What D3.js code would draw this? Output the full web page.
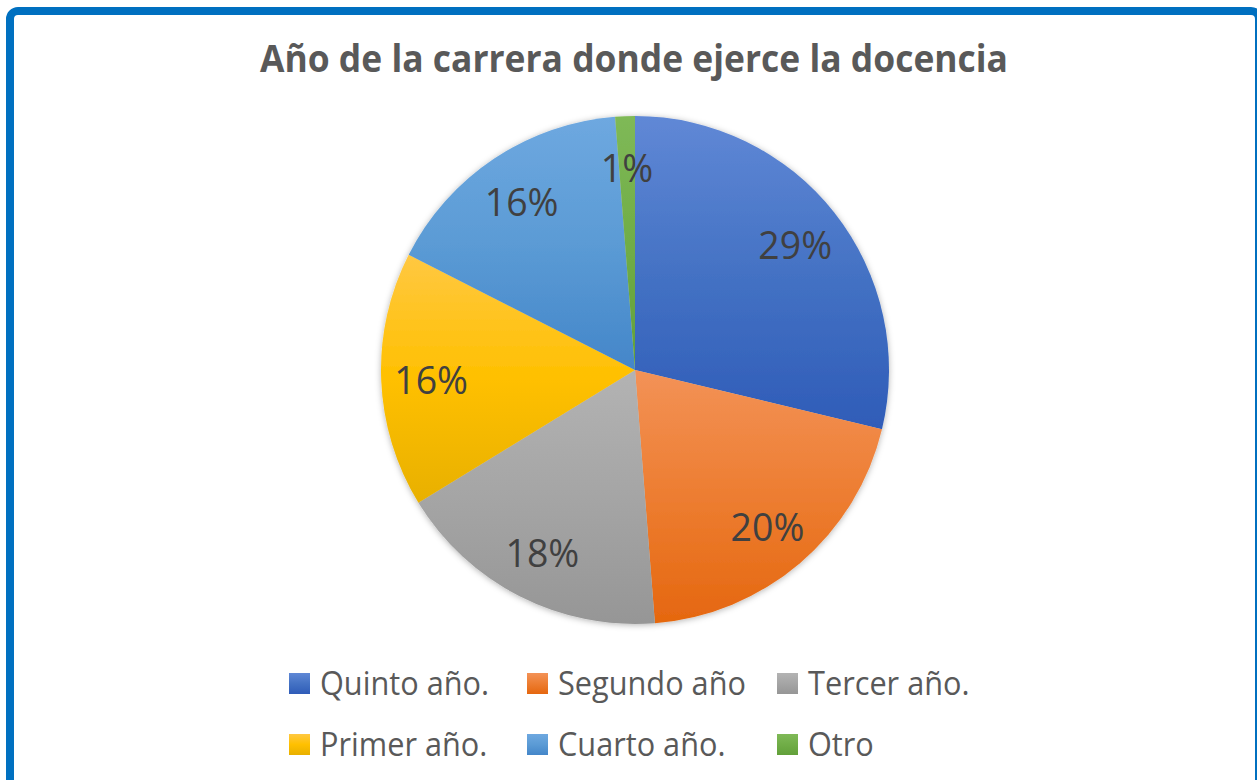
<!DOCTYPE html>
<html>
<head>
<meta charset="utf-8">
<script src="https://cdn.jsdelivr.net/npm/d3@7"></script>
<style>
  body { margin: 0; background: #fff; }
  svg { display: block; }
</style>
</head>
<body>
<svg id="chart" width="1257" height="780"></svg>
<script>
// data (counts out of 80)
const categories = ["Quinto año.", "Segundo año", "Tercer año.", "Primer año.", "Cuarto año.", "Otro"];
const counts = [23, 16, 14, 13, 13, 1];
const colorsTop = ["#6088d6", "#f39257", "#b3b3b3", "#ffc842", "#6ea8e0", "#7fb957"];
const colorsMid = ["#4472c4", "#ed7d31", "#a5a5a5", "#ffc000", "#5b9bd5", "#70ad47"];
const colorsBot = ["#2f5cb8", "#e5670f", "#969696", "#e8b000", "#4486c9", "#62a03a"];
const title = "Año de la carrera donde ejerce la docencia";

const width = 1257, height = 780;
const cx = 635, cy = 370, radius = 254;

const svg = d3.select("#chart");
const defs = svg.append("defs");

// frame
svg.append("rect")
  .attr("x", 10).attr("y", 11)
  .attr("width", 1249).attr("height", 900)
  .attr("rx", 8)
  .attr("fill", "#fff")
  .attr("stroke", "#0070c0")
  .attr("stroke-width", 8);

// title
svg.append("text")
  .attr("x", 634).attr("y", 72)
  .attr("text-anchor", "middle")
  .attr("font-family", "Open Sans")
  .attr("font-weight", "bold")
  .attr("font-size", 37)
  .attr("fill", "#595959")
  .attr("textLength", 748)
  .attr("lengthAdjust", "spacingAndGlyphs")
  .text(title);

// gradients
categories.forEach((c, i) => {
  const g = defs.append("linearGradient")
    .attr("id", "grad" + i)
    .attr("x1", 0).attr("y1", 0).attr("x2", 0).attr("y2", 1);
  g.append("stop").attr("offset", "0%").attr("stop-color", colorsTop[i]);
  g.append("stop").attr("offset", "50%").attr("stop-color", colorsMid[i]);
  g.append("stop").attr("offset", "100%").attr("stop-color", colorsBot[i]);
});

const shadow = defs.append("filter").attr("id", "shadow")
  .attr("x", "-10%").attr("y", "-10%").attr("width", "120%").attr("height", "120%");
shadow.append("feDropShadow")
  .attr("dx", 0).attr("dy", 1).attr("stdDeviation", 3)
  .attr("flood-color", "#000").attr("flood-opacity", 0.3);

const pie = d3.pie().sort(null).value(d => d);
const arcs = pie(counts);
const total = d3.sum(counts);

const arc = d3.arc().innerRadius(0).outerRadius(radius);
const labelArc = d3.arc().innerRadius(204).outerRadius(204);

const g = svg.append("g").attr("transform", `translate(${cx},${cy})`);

g.append("g").attr("filter", "url(#shadow)")
  .selectAll("path")
  .data(arcs)
  .join("path")
  .attr("d", arc)
  .attr("fill", (d, i) => `url(#grad${i})`);

const fmt = d3.format(".0%");
g.selectAll("text.lbl")
  .data(arcs)
  .join("text")
  .attr("class", "lbl")
  .attr("transform", d => `translate(${labelArc.centroid(d)})`)
  .attr("text-anchor", "middle")
  .attr("dy", "0.4em")
  .attr("font-family", "Open Sans")
  .attr("font-size", 39)
  .attr("fill", "#404040")
  .text(d => fmt(Math.round(d.data / total * 100) / 100))
  .each(function () {
    const w = this.getComputedTextLength();
    d3.select(this).attr("textLength", w * 0.96).attr("lengthAdjust", "spacingAndGlyphs");
  });

// legend
const colX = [289, 527, 777];
const rowY = [695, 756];
const legend = svg.append("g");
categories.forEach((c, i) => {
  const x = colX[i % 3], y = rowY[Math.floor(i / 3)];
  legend.append("rect")
    .attr("x", x).attr("y", y - 22)
    .attr("width", 21).attr("height", 21)
    .attr("fill", `url(#grad${i})`);
  const tx = legend.append("text")
    .attr("x", x + 31).attr("y", y)
    .attr("font-family", "Open Sans")
    .attr("font-size", 33)
    .attr("fill", "#595959")
    .text(c);
  const w = tx.node().getComputedTextLength();
  tx.attr("textLength", w * 0.93).attr("lengthAdjust", "spacingAndGlyphs");
});
</script>
</body>
</html>
